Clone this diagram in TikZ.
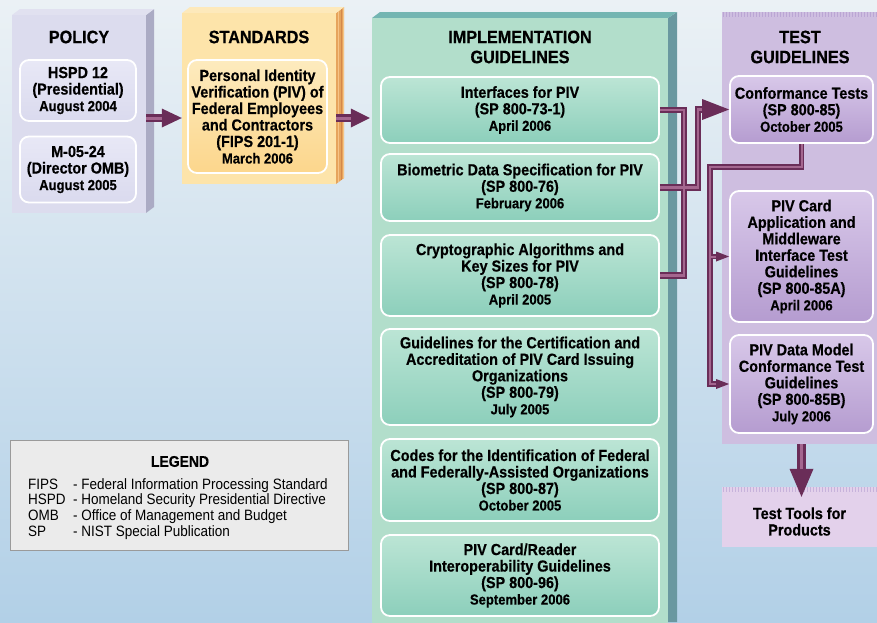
\documentclass[tikz,border=0pt]{standalone}
\usepackage{fontspec}
\setmainfont{Liberation Sans}[FakeStretch=0.9, BoldFeatures={FakeBold=0.5}]
\usetikzlibrary{arrows.meta}

\definecolor{bgtop}{HTML}{EBF1F5}
\definecolor{bgbot}{HTML}{B2D0E7}
\definecolor{polface}{HTML}{DCDCEE}
\definecolor{polside}{HTML}{ABABC4}
\definecolor{polinA}{HTML}{E8E8F6}
\definecolor{polinB}{HTML}{DADAEE}
\definecolor{stdface}{HTML}{FDE4AA}
\definecolor{stdsideA}{HTML}{E6A45C}
\definecolor{stdsideB}{HTML}{F6C486}
\definecolor{stdsideC}{HTML}{D4884A}
\definecolor{stdinA}{HTML}{FDEBBE}
\definecolor{stdinB}{HTML}{FCD68C}
\definecolor{impface}{HTML}{B2DECB}
\definecolor{imptop}{HTML}{74B5B2}
\definecolor{impside}{HTML}{6A98A0}
\definecolor{impinA}{HTML}{BCE5D5}
\definecolor{impinB}{HTML}{8CCFBB}
\definecolor{tstface}{HTML}{CEBEE0}
\definecolor{tststripe}{HTML}{BBA6D4}
\definecolor{tstinA}{HTML}{D8C8E9}
\definecolor{tstinB}{HTML}{B59CD0}
\definecolor{toolface}{HTML}{E3D1EB}
\definecolor{legfill}{HTML}{EBEBEB}
\definecolor{legdraw}{HTML}{9A9A9A}
\definecolor{arrdark}{HTML}{6A2D58}
\definecolor{arrlight}{HTML}{A4668F}

\newcommand\titlefont{\fontsize{18}{20}\selectfont\bfseries}
\newcommand\boxfont{\fontsize{16}{16.5}\selectfont\bfseries}
\newcommand\datesz{\fontsize{14.5}{16.5}\selectfont}
\newcommand\legfont{\fontsize{15}{16}\selectfont}

\tikzset{
  face/.style={inner sep=0pt, draw=none},
  inbox/.style={rounded corners=9pt, draw=white, line width=1.8pt, inner sep=0pt,
    align=center, font=\boxfont, text=black},
  coltitle/.style={font=\titlefont, align=center, inner sep=0pt},
  legtext/.style={font=\legfont, inner sep=0pt, anchor=base west},
  pipe/.style={line width=8pt, draw=arrdark},
  pipecore/.style={line width=3pt, draw=arrlight},
  midpipe/.style={line width=6.5pt, draw=arrdark},
  midcore/.style={line width=2.3pt, draw=arrlight},
  thinpipe/.style={line width=5.5pt, draw=arrdark},
  thincore/.style={line width=2pt, draw=arrlight},
  fatpipe/.style={line width=9pt, draw=arrdark},
  fatcore/.style={line width=3.5pt, draw=arrlight},
}

\begin{document}
\begin{tikzpicture}[x=1pt,y=-1pt]
\useasboundingbox (0,0) rectangle (877,622);

% backdrop
\shade[top color=bgtop, bottom color=bgbot] (0,0) rectangle (877,622);

% ---- POLICY block
\fill[polside] (146,15) -- (154,9) -- (154,207) -- (146,213) -- cycle;
\fill[polface!85!white] (12,15) -- (20,9) -- (154,9) -- (146,15) -- cycle;
\node[face, fill=polface, minimum width=134pt, minimum height=198pt] (policy) at (79,114) {};
\node[coltitle] (poltitle) at (79,37) {POLICY};
\node[inbox, top color=polinA, bottom color=polinB, minimum width=116pt, minimum height=61pt] (hspd) at (78,90.5)
  {HSPD 12\\(Presidential)\\\datesz August 2004};
\node[inbox, top color=polinA, bottom color=polinB, minimum width=116pt, minimum height=66pt] (omb) at (78,169.5)
  {M-05-24\\(Director OMB)\\\datesz August 2005};

% ---- STANDARDS block
\fill[stdsideA] (336,13) -- (344,7) -- (344,178) -- (336,184) -- cycle;
\foreach \sx/\sc in {338.5/stdsideB, 341/stdsideC, 343/stdsideB}
  \draw[\sc, line width=0.8pt] (\sx,{13-(\sx-336)*0.75}) -- (\sx,{184-(\sx-336)*0.75});
\fill[stdface!80!white] (182,13) -- (190,7) -- (344,7) -- (336,13) -- cycle;
\node[face, fill=stdface, minimum width=154pt, minimum height=171pt] (standards) at (259,98.5) {};
\node[coltitle] (stdtitle) at (259,37) {STANDARDS};
\node[inbox, top color=stdinA, bottom color=stdinB, minimum width=139pt, minimum height=113pt] (fips) at (257.5,116.5)
  {Personal Identity\\Verification (PIV) of\\Federal Employees\\and Contractors\\(FIPS 201-1)\\\datesz March 2006};

% ---- IMPLEMENTATION GUIDELINES block
\fill[impside] (668,18) -- (677,12) -- (677,622) -- (668,622) -- cycle;
\fill[imptop] (372,18) -- (380,12) -- (677,12) -- (668,18) -- cycle;
\node[face, fill=impface, minimum width=296pt, minimum height=606pt] (impl) at (520,321) {};
\node[coltitle] (imptitle) at (520,47) {IMPLEMENTATION\\GUIDELINES};
\tikzset{impbox/.style={inbox, top color=impinA, bottom color=impinB, minimum width=278pt}}
\node[impbox, minimum height=66pt] (imp1) at (520,110)
  {Interfaces for PIV\\(SP 800-73-1)\\\datesz April 2006};
\node[impbox, minimum height=67pt] (imp2) at (520,187.5)
  {Biometric Data Specification for PIV\\(SP 800-76)\\\datesz February 2006};
\node[impbox, minimum height=81pt] (imp3) at (520,275.5)
  {Cryptographic Algorithms and\\Key Sizes for PIV\\(SP 800-78)\\\datesz April 2005};
\node[impbox, minimum height=96pt] (imp4) at (520,377)
  {Guidelines for the Certification and\\Accreditation of PIV Card Issuing\\Organizations\\(SP 800-79)\\\datesz July 2005};
\node[impbox, minimum height=82pt] (imp5) at (520,480)
  {Codes for the Identification of Federal\\and Federally-Assisted Organizations\\(SP 800-87)\\\datesz October 2005};
\node[impbox, minimum height=81pt] (imp6) at (520,575.5)
  {PIV Card/Reader\\Interoperability Guidelines\\(SP 800-96)\\\datesz September 2006};

% ---- TEST GUIDELINES block
\node[face, fill=tstface, minimum width=158pt, minimum height=432pt] (test) at (801,228) {};
\foreach \sx in {723.5,726.5,...,877}
  \draw[tststripe, line width=1.2pt] (\sx,12) -- (\sx,17);
\node[coltitle] (tsttitle) at (800,47) {TEST\\GUIDELINES};
\tikzset{tstbox/.style={inbox, top color=tstinA, bottom color=tstinB, minimum width=143pt}}
\node[tstbox, minimum height=67pt] (conf) at (801.5,109.5)
  {Conformance Tests\\(SP 800-85)\\\datesz October 2005};
\node[tstbox, minimum height=131pt] (card) at (801.5,256.5)
  {PIV Card\\Application and\\Middleware\\Interface Test\\Guidelines\\(SP 800-85A)\\\datesz April 2006};
\node[tstbox, minimum height=98pt] (dm) at (801.5,384)
  {PIV Data Model\\Conformance Test\\Guidelines\\(SP 800-85B)\\\datesz July 2006};

% ---- Test tools
\node[face, fill=toolface, minimum width=158pt, minimum height=60pt] (tools) at (801,517) {};
\node[font=\boxfont, align=center, inner sep=0pt] (toolstext) at (799.5,521.5) {Test Tools for\\Products};
\foreach \sx in {723.5,726.5,...,877}
  \draw[tststripe!70!toolface, line width=1.2pt] (\sx,487) -- (\sx,492);

% ---- Legend
\node[face, draw=legdraw, line width=1pt, fill=legfill, minimum width=338pt, minimum height=110pt] (legend) at (179,495) {};
\node[font=\fontsize{15.5}{16}\selectfont\bfseries, inner sep=0pt] (legtitle) at (180,461.5) {LEGEND};
\node[legtext] (lk1) at (28,489) {FIPS};
\node[legtext] (lv1) at (73,489) {- Federal Information Processing Standard};
\node[legtext] (lk2) at (28,504.5) {HSPD};
\node[legtext] (lv2) at (73,504.5) {- Homeland Security Presidential Directive};
\node[legtext] (lk3) at (28,520) {OMB};
\node[legtext] (lv3) at (73,520) {- Office of Management and Budget};
\node[legtext] (lk4) at (28,536) {SP};
\node[legtext] (lv4) at (73,536) {- NIST Special Publication};

% ---- Connectors
\coordinate (rowa) at (0,118);
% policy -> standards -> implementation
\draw[pipe, -{Triangle[length=20pt,width=19pt,line width=0pt]}] (policy.east |- rowa) -- (standards.west |- rowa);
\draw[pipecore, shorten >=20pt] (policy.east |- rowa) -- (standards.west |- rowa);
\draw[pipe, -{Triangle[length=19pt,width=19pt,line width=0pt]}] (standards.east |- rowa) -- ([xshift=-2pt]impl.west |- rowa);
\draw[pipecore, shorten >=19pt] (standards.east |- rowa) -- ([xshift=-2pt]impl.west |- rowa);

% implementation guidelines -> conformance tests
\coordinate (brk) at (684,0);
\coordinate (riser) at (698,0);
\draw[midpipe] (imp1.east) -- (imp1.east -| brk) |- (imp3.east);
\draw[midpipe, -{Triangle[length=27pt,width=21pt,line width=0pt]}] (imp2.east) -| (riser |- conf.west) -- (conf.west);
\draw[midcore] (imp1.east) -- (imp1.east -| brk) |- (imp3.east);
\draw[midcore, shorten >=27pt] (imp2.east) -| (riser |- conf.west) -- (conf.west);

% conformance tests -> 85A and 85B
\coordinate (bus) at (710,167);
\draw[thinpipe, -{Triangle[length=13pt,width=10pt,line width=0pt]}] (conf.south) |- (bus) |- (dm.west);
\draw[thinpipe, -{Triangle[length=13pt,width=10pt,line width=0pt]}] (bus |- card.west) -- (card.west);
\draw[thincore, shorten >=13pt] (conf.south) |- (bus) |- (dm.west);
\draw[thincore, shorten >=13pt] (bus |- card.west) -- (card.west);

% test guidelines -> test tools (tip reaches into the tools panel)
\coordinate (toolsin) at ([yshift=-10pt]tools.north -| conf.south);
\draw[fatpipe, -{Triangle[length=28pt,width=24pt,line width=0pt]}] (test.south -| conf.south) -- (toolsin);
\draw[fatcore, shorten >=28pt] (test.south -| conf.south) -- (toolsin);
\end{tikzpicture}
\end{document}
